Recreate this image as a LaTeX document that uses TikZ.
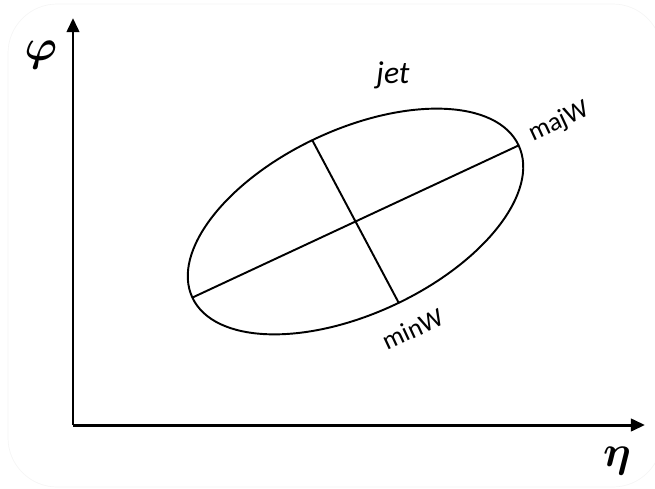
\documentclass[tikz,border=0pt]{standalone}
\usepackage{amsmath}
\usepackage{fontspec}
\setmainfont{Carlito}
\usetikzlibrary{arrows.meta,calc}

\tikzset{
  axis/.style={line width=1.7pt, -{Triangle[length=8pt,width=7pt]}},
  jetline/.style={line width=1.1pt},
  widthlabel/.style={font=\fontsize{15}{17}\selectfont, rotate=25, inner sep=0pt},
  axislabel/.style={font=\fontsize{24}{27}\selectfont, inner sep=0pt}
}

\begin{document}
\begin{tikzpicture}[x=0.02cm, y=0.02cm]
    \useasboundingbox (0,0) rectangle (655,488);
    \draw[black!4, thin, rounded corners=28pt] (8,1) rectangle (662,484);

    % axes
    \coordinate (O) at (73,63);
    \coordinate (Ytip) at (73,470);
    \coordinate (Xtip) at (645,63);
    \draw[axis] (O) -- (Ytip);
    \draw[axis] (O) -- (Xtip);
    \node[axislabel] (phi) at (41,433) {$\boldsymbol{\varphi}$};
    \node[axislabel] (eta) at (617,27) {$\boldsymbol{\eta}$};

    % jet ellipse and its widths
    \coordinate (c) at (355.5,266.5);
    \draw[jetline, rotate around={25:(c)}] (c) ellipse [x radius=180, y radius=92];
    \coordinate (majA) at ($(c)+(205:180)$);
    \coordinate (majB) at ($(c)+(25:180)$);
    \coordinate (minA) at ($(c)+(118:92.4)$);
    \coordinate (minB) at ($(c)+(298:92.4)$);
    \draw[jetline] (majA) -- (majB);
    \draw[jetline] (minA) -- (minB);

    \node[font=\fontsize{18}{21}\selectfont\itshape] (jet) at (393,413) {jet};
    \node[widthlabel] (majW) at (559,366) {majW};
    \node[widthlabel] (minW) at (413,159) {minW};
  \end{tikzpicture}
\end{document}
